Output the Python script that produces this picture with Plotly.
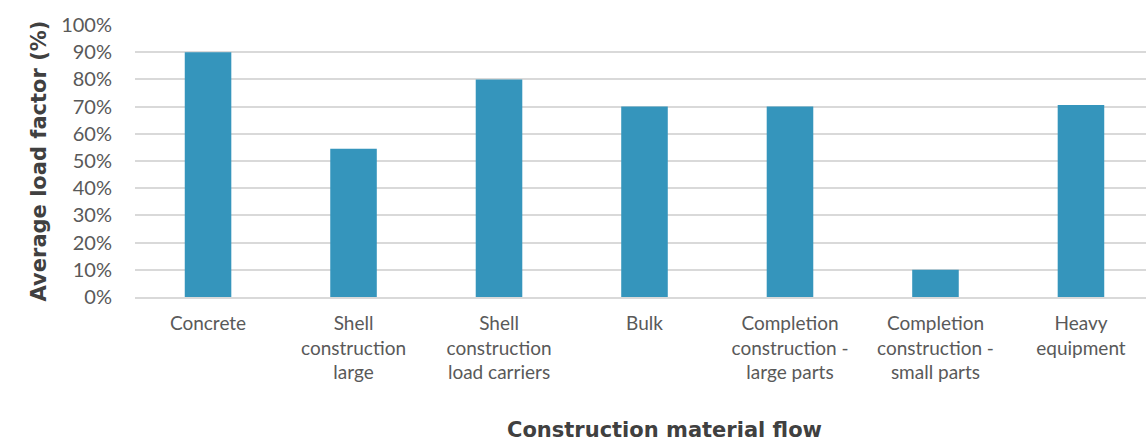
import plotly.graph_objects as go

# Average load factor per construction material flow
categories = [
    "Concrete",
    "Shell<br>construction<br>large",
    "Shell<br>construction<br>load carriers",
    "Bulk",
    "Completion<br>construction -<br>large parts",
    "Completion<br>construction -<br>small parts",
    "Heavy<br>equipment",
]
load_factor = [0.90, 0.545, 0.80, 0.70, 0.70, 0.10, 0.706]
y_ticks = [0, 0.1, 0.2, 0.3, 0.4, 0.5, 0.6, 0.7, 0.8, 0.9, 1.0]
x_title = "Construction material flow"
y_title = "Average load factor (%)"

FONT = "Lato, 'Open Sans', sans-serif"
TITLE_FONT = "'DejaVu Sans', sans-serif"
GRID = "#d9d9d9"

fig = go.Figure(
    go.Bar(
        x=categories,
        y=load_factor,
        marker=dict(color="#3595bc", line=dict(width=0)),
        width=0.32,
    )
)

fig.update_layout(
    width=1146,
    height=441,
    margin=dict(l=135, r=0, t=25, b=144),
    paper_bgcolor="white",
    plot_bgcolor="white",
    showlegend=False,
    font=dict(family=FONT, color="#595959", size=18),
    annotations=[
        dict(
            text=f"<b>{x_title}</b>",
            xref="paper", yref="paper",
            x=0.524, y=-0.489,
            xanchor="center", yanchor="middle",
            showarrow=False,
            font=dict(family=TITLE_FONT, size=21, color="#404040"),
        )
    ],
)

fig.update_xaxes(
    range=[-0.502, 6.447],
    showgrid=False,
    showline=True,
    linecolor=GRID,
    linewidth=2,
    ticks="",
    ticklabelstandoff=8,
    tickfont=dict(size=19, color="#595959"),
)

fig.update_yaxes(
    range=[0, 1.0],
    tickvals=y_ticks,
    tickformat=".0%",
    showgrid=True,
    gridcolor=GRID,
    gridwidth=2,
    zeroline=False,
    showline=False,
    ticks="",
    ticklabelstandoff=22,
    tickfont=dict(size=20, color="#595959"),
    title=dict(
        text=f"<b>{y_title}</b>",
        font=dict(family=TITLE_FONT, size=21, color="#404040"),
        standoff=8,
    ),
)

fig.write_html("out.html")
